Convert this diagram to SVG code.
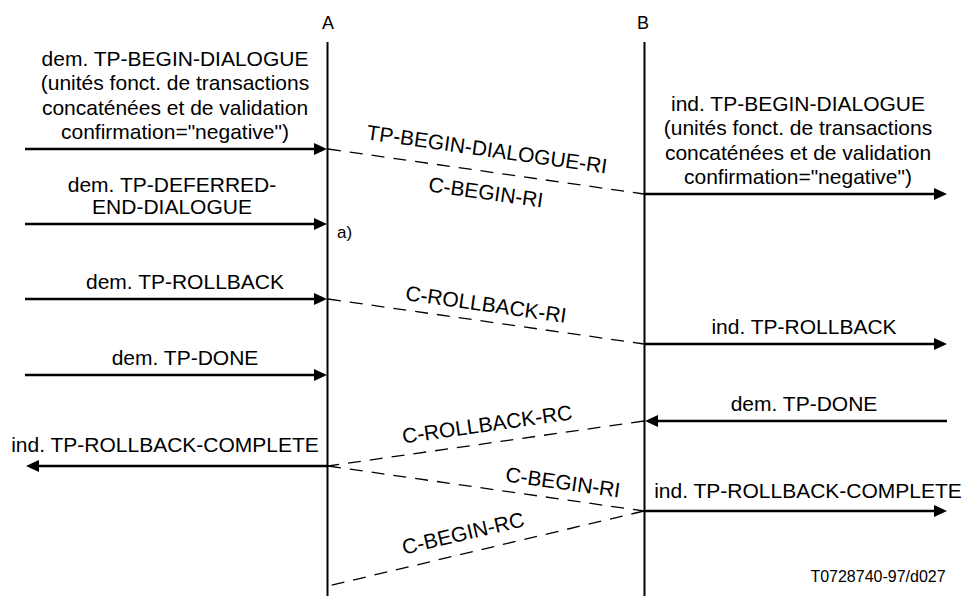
<svg xmlns="http://www.w3.org/2000/svg" width="963" height="596" viewBox="0 0 963 596">
<style>
text{font-family:"Liberation Sans",Arial,sans-serif;fill:#000}
.t{font-size:21px;text-anchor:middle}
.h{font-size:18px;text-anchor:middle}
.ll{stroke:#000;stroke-width:2;fill:none}
.arr{stroke:#000;stroke-width:2.5;fill:none;marker-end:url(#ah)}
.dash{stroke:#000;stroke-width:1.3;fill:none;stroke-dasharray:13 9}
</style>
<defs>
<marker id="ah" markerUnits="userSpaceOnUse" markerWidth="14" markerHeight="14" refX="7" refY="6" orient="auto"><path d="M0,0 L13,6 L0,12 z" fill="#000"/></marker>
</defs>
<rect width="963" height="596" fill="#fff"/>
<g id="lifeline-A">
<text class="h" x="328" y="29">A</text>
<line class="ll" x1="327.5" y1="42" x2="327.5" y2="596"/>
</g>
<g id="lifeline-B">
<text class="h" x="643" y="29">B</text>
<line class="ll" x1="644.5" y1="42" x2="644.5" y2="596"/>
</g>
<g id="connectors">
<line class="arr" x1="25" y1="149" x2="321" y2="149"/>
<line class="arr" x1="25" y1="224" x2="321" y2="224"/>
<line class="arr" x1="25" y1="299" x2="321" y2="299"/>
<line class="arr" x1="25" y1="375" x2="321" y2="375"/>
<line class="arr" x1="327" y1="466" x2="32" y2="466"/>
<line class="arr" x1="645" y1="194" x2="941" y2="194"/>
<line class="arr" x1="645" y1="344" x2="941" y2="344"/>
<line class="arr" x1="947" y1="421" x2="651" y2="421"/>
<line class="arr" x1="645" y1="511" x2="941" y2="511"/>
<line class="dash" x1="328" y1="149" x2="644" y2="194"/>
<line class="dash" x1="328" y1="299" x2="644" y2="344"/>
<line class="dash" x1="644" y1="421" x2="328" y2="466"/>
<line class="dash" x1="328" y1="466" x2="644" y2="511"/>
<line class="dash" x1="644" y1="511" x2="328" y2="586"/>
</g>
<g id="labels">
<text class="t" transform="translate(487,149) rotate(8.1)" y="7.5">TP-BEGIN-DIALOGUE-RI</text>
<text class="t" transform="translate(486,192) rotate(8.1)" y="7.5">C-BEGIN-RI</text>
<text class="t" transform="translate(486,304) rotate(8.1)" y="7.5">C-ROLLBACK-RI</text>
<text class="t" transform="translate(487,424) rotate(-8.1)" y="7.5">C-ROLLBACK-RC</text>
<text class="t" transform="translate(563,482) rotate(8.1)" y="7.5">C-BEGIN-RI</text>
<text class="t" transform="translate(463,533) rotate(-13.35)" y="7.5">C-BEGIN-RC</text>

<text class="t" x="175" y="65.5">dem. TP-BEGIN-DIALOGUE</text>
<text class="t" x="175" y="90">(unités fonct. de transactions</text>
<text class="t" x="175" y="114.5">concaténées et de validation</text>
<text class="t" x="175" y="139">confirmation="negative")</text>
<text class="t" x="172" y="191.5">dem. TP-DEFERRED-</text>
<text class="t" x="172" y="214">END-DIALOGUE</text>
<text x="337" y="238" style="font-size:17px">a)</text>
<text class="t" x="185" y="289">dem. TP-ROLLBACK</text>
<text class="t" x="185" y="365">dem. TP-DONE</text>
<text class="t" x="165" y="452">ind. TP-ROLLBACK-COMPLETE</text>

<text class="t" x="798" y="110.5">ind. TP-BEGIN-DIALOGUE</text>
<text class="t" x="798" y="135">(unités fonct. de transactions</text>
<text class="t" x="798" y="159.5">concaténées et de validation</text>
<text class="t" x="798" y="184">confirmation="negative")</text>
<text class="t" x="804" y="334">ind. TP-ROLLBACK</text>
<text class="t" x="804" y="411">dem. TP-DONE</text>
<text class="t" x="808" y="498">ind. TP-ROLLBACK-COMPLETE</text>
<text x="878" y="582" style="font-size:16px;text-anchor:middle">T0728740-97/d027</text>
</g>
</svg>
